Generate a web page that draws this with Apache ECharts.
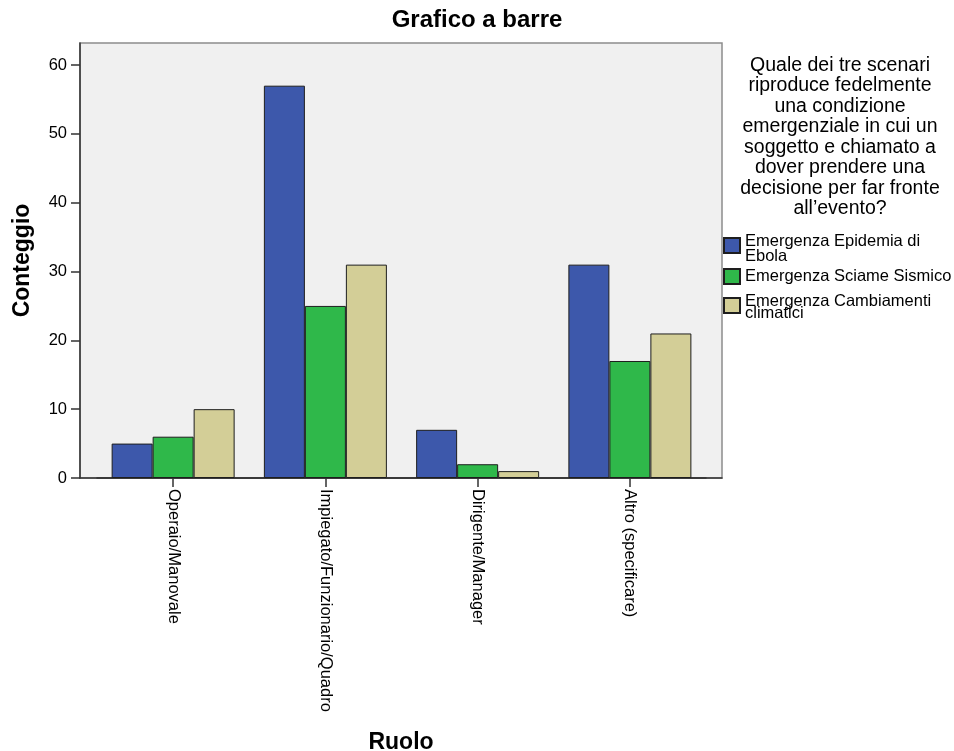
<!DOCTYPE html>
<html>
<head>
<meta charset="utf-8">
<script src="https://cdn.jsdelivr.net/npm/echarts@6/dist/echarts.min.js"></script>
<style>
html,body{margin:0;padding:0;background:#fff;}
#chart{width:954px;height:751px;}
</style>
</head>
<body>
<div id="chart"></div>
<script>
var categories = ['Operaio/Manovale', 'Impiegato/Funzionario/Quadro', 'Dirigente/Manager', 'Altro (specificare)'];
var seriesNames = ['Emergenza Epidemia di Ebola', 'Emergenza Sciame Sismico', 'Emergenza Cambiamenti climatici'];
var legendLines = [['Emergenza Epidemia di', 'Ebola'], ['Emergenza Sciame Sismico'], ['Emergenza Cambiamenti', 'climatici']];
var ebola = [5, 57, 7, 31];
var sciame = [6, 25, 2, 17];
var clima = [10, 31, 1, 21];
var yTicks = [0, 10, 20, 30, 40, 50, 60];
var legendTitle = 'Quale dei tre scenari\nriproduce fedelmente\nuna condizione\nemergenziale in cui un\nsoggetto e chiamato a\ndover prendere una\ndecisione per far fronte\nall\u2019evento?';

var FONT = '"Liberation Sans", Arial, sans-serif';
var colors = ['#3d58ab', '#2fb84a', '#d3ce97'];
var values = [ebola, sciame, clima];
var YMAX = 63.2;

var chart = echarts.init(document.getElementById('chart'), null, {renderer: 'canvas'});

function legendFor(i, top, lh, spacer) {
  return {
    orient: 'vertical',
    left: 723,
    top: top,
    padding: 0,
    icon: 'rect',
    itemWidth: 16,
    itemHeight: 15,
    itemGap: 0,
    selectedMode: false,
    data: [seriesNames[i]],
    formatter: function (n) {
      var lines = legendLines[seriesNames.indexOf(n)].map(function (s) { return '{t|' + s + '}'; });
      if (spacer > 0) lines.unshift('{s| }');
      return lines.join('\n');
    },
    textStyle: {
      fontFamily: FONT,
      fontSize: 16.5,
      lineHeight: lh,
      color: '#000',
      rich: {
        s: {fontSize: 1, lineHeight: spacer, fontFamily: FONT},
        t: {fontSize: 16.5, lineHeight: lh, fontFamily: FONT, color: '#000'}
      }
    }
  };
}

var option = {
  animation: false,
  backgroundColor: '#ffffff',
  title: {
    text: 'Grafico a barre',
    left: 'center',
    top: 8,
    padding: 0,
    textStyle: {fontFamily: FONT, fontSize: 24, fontWeight: 'bold', color: '#000'}
  },
  graphic: [{
    type: 'text',
    x: 840,
    y: 55,
    style: {
      text: legendTitle,
      align: 'center',
      verticalAlign: 'top',
      fontFamily: FONT,
      fontSize: 19.5,
      lineHeight: 20.5,
      fill: '#000'
    }
  }],
  legend: [
    legendFor(0, 227, 15, 7),
    legendFor(1, 268, 15, 0),
    legendFor(2, 291.5, 12, 4)
  ],
  grid: [
    {left: 80, top: 43, width: 642, height: 435, show: true, backgroundColor: '#f0f0f0', borderColor: '#8c8c8c', borderWidth: 1.5, containLabel: false, outerBoundsMode: 'none'},
    {left: 97, top: 43, width: 609, height: 435, containLabel: false, outerBoundsMode: 'none'}
  ],
  xAxis: [
    {
      gridIndex: 0, type: 'value', min: 0, max: 1,
      axisLine: {show: true, lineStyle: {color: '#333', width: 1.5}},
      axisTick: {show: false}, axisLabel: {show: false}, splitLine: {show: false},
      name: 'Ruolo', nameLocation: 'middle', nameGap: 253,
      nameTextStyle: {fontFamily: FONT, fontSize: 23, fontWeight: 'bold', color: '#000'}
    },
    {
      gridIndex: 1, type: 'category', data: categories,
      axisLine: {show: true, lineStyle: {color: '#333', width: 1.5}},
      axisTick: {show: true, alignWithLabel: true, length: 9, lineStyle: {color: '#333', width: 1.5}},
      axisLabel: {rotate: -90, margin: 11, interval: 0, fontFamily: FONT, fontSize: 16.5, color: '#000'},
      splitLine: {show: false}
    }
  ],
  yAxis: [
    {
      gridIndex: 0, type: 'value', min: 0, max: YMAX, interval: 10,
      axisLine: {show: true, lineStyle: {color: '#333', width: 1.5}},
      axisTick: {show: true, length: 9, customValues: yTicks, lineStyle: {color: '#333', width: 1.5}},
      axisLabel: {margin: 13, customValues: yTicks, fontFamily: FONT, fontSize: 16.5, color: '#000'},
      splitLine: {show: false},
      name: 'Conteggio', nameLocation: 'middle', nameGap: 46,
      nameTextStyle: {fontFamily: FONT, fontSize: 23, fontWeight: 'bold', color: '#000'}
    },
    {
      gridIndex: 1, type: 'value', min: 0, max: YMAX, interval: 10, show: false,
      splitLine: {show: false}
    }
  ],
  series: seriesNames.map(function (n, i) {
    return {
      name: n,
      type: 'bar',
      xAxisIndex: 1,
      yAxisIndex: 1,
      barWidth: 41,
      barGap: '0%',
      data: values[i],
      itemStyle: {color: colors[i], borderColor: '#1e1e1e', borderWidth: 1}
    };
  })
};
chart.setOption(option);
</script>
</body>
</html>
